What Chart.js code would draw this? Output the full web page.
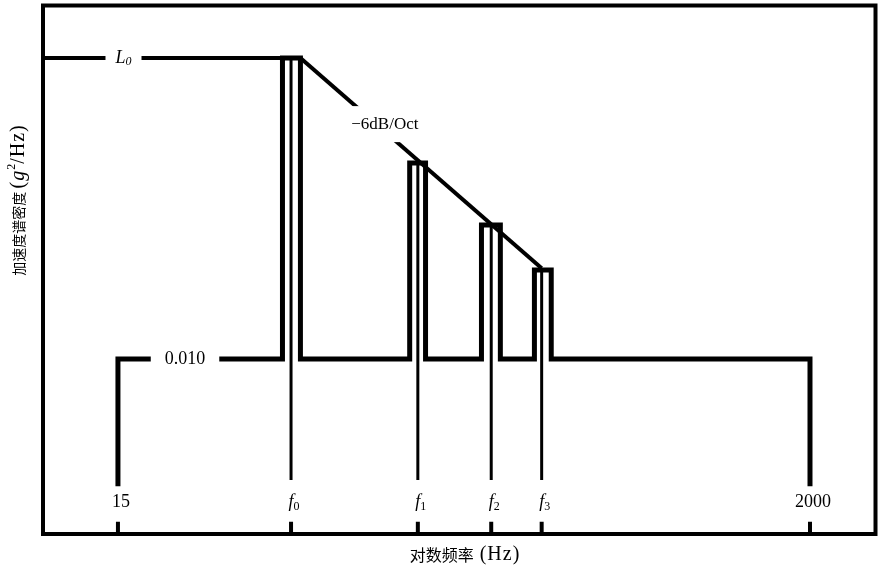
<!DOCTYPE html>
<html>
<head>
<meta charset="utf-8">
<script src="https://cdn.jsdelivr.net/npm/chart.js@4.4.1/dist/chart.umd.min.js"></script>
<style>
  html, body { margin: 0; padding: 0; background: #fff; }
  #wrap { width: 882px; height: 566px; position: relative; }
</style>
</head>
<body>
<div id="wrap"><canvas id="psd"></canvas></div>
<script>
// marks on the log frequency axis (Hz)
const tickLabels = ['15', 'f0', 'f1', 'f2', 'f3', '2000'];
const tickFreqs = [15, 51, 125, 210, 300, 2000];

// narrow bands round f0..f3 (Hz) and their levels (g^2/Hz)
const bandLow = [48, 118, 196, 285];
const bandHigh = [54.5, 132, 224, 321];
const bandLevel = [1.57, 0.269, 0.095, 0.0446];

const baseLevel = 0.010;   // broadband level
const L0 = 1.57;

// the -6dB/Oct line, from f0 to f3
const slopeFreq = [54.5, 300];
const slopeLevel = [1.57, 0.046];

// axis limits and where the short lines stop
const xRange = [8.83, 3178];
const yRange = [0.000529, 3.8];
const markerFoot = 0.00131;
const endFoot = 0.00118;
const tickTop = 0.00065;
const labelLevel = 0.0009;

const SERIF = '"Liberation Serif", "Times New Roman", serif';
const CJK = '"Noto Sans CJK SC", sans-serif';

function line(data, width) {
    return {
        data: data,
        showLine: true,
        borderColor: '#000',
        borderWidth: width,
        pointRadius: 0,
        borderJoinStyle: 'miter',
        borderCapStyle: 'butt',
        tension: 0,
    };
}

const spectrum = [{x: tickFreqs[0], y: endFoot}, {x: tickFreqs[0], y: baseLevel}];
bandLow.forEach((lo, i) => {
    spectrum.push(
        {x: lo, y: baseLevel}, {x: lo, y: bandLevel[i]},
        {x: bandHigh[i], y: bandLevel[i]}, {x: bandHigh[i], y: baseLevel}
    );
});
spectrum.push({x: tickFreqs[5], y: baseLevel}, {x: tickFreqs[5], y: endFoot});

const datasets = [
    line(spectrum, 5),
    line([{x: xRange[0], y: L0}, {x: bandLow[0], y: L0}], 4),
    line(slopeFreq.map((f, i) => ({x: f, y: slopeLevel[i]})), 4),
    ...tickFreqs.slice(1, 5).map((f, i) => line([{x: f, y: bandLevel[i]}, {x: f, y: markerFoot}], 3)),
    ...tickFreqs.map(f => line([{x: f, y: yRange[0]}, {x: f, y: tickTop}], 4)),
];

// text made of pieces with their own font and vertical shift
function drawParts(ctx, parts, cx, cy, box) {
    let w = 0;
    parts.forEach(p => {
        ctx.font = p.font;
        ctx.letterSpacing = p.ls || '0px';
        p.w = ctx.measureText(p.text).width;
        w += p.w;
    });
    if (box) {
        ctx.fillStyle = '#fff';
        ctx.fillRect(cx - w / 2 - box[0], cy - 8 - box[1], w + 2 * box[0], 16 + 2 * box[1]);
    }
    ctx.fillStyle = '#000';
    ctx.textAlign = 'left';
    ctx.textBaseline = 'middle';
    let px = cx - w / 2;
    parts.forEach(p => {
        ctx.font = p.font;
        ctx.letterSpacing = p.ls || '0px';
        ctx.fillText(p.text, px, cy + (p.dy || 0));
        px += p.w;
    });
    ctx.letterSpacing = '0px';
}

function subLabel(main, sub, italicSub) {
    return [
        {text: main, font: 'italic 18px ' + SERIF},
        {text: sub, font: (italicSub ? 'italic ' : '') + '12px ' + SERIF, dy: 4},
    ];
}

const notesPlugin = {
    id: 'notes',
    afterDatasetsDraw(chart) {
        const {ctx, chartArea: a, scales: {x, y}} = chart;
        ctx.save();

        // frame
        ctx.lineWidth = 4;
        ctx.strokeStyle = '#000';
        ctx.strokeRect(a.left, a.top, a.right - a.left, a.bottom - a.top);

        drawParts(ctx, subLabel('L', '0', true), x.getPixelForValue(15.6), y.getPixelForValue(L0), [10, 6]);
        drawParts(ctx, [{text: '0.010', font: '18px ' + SERIF}], x.getPixelForValue(24.1), y.getPixelForValue(baseLevel), [14, 6]);
        drawParts(ctx, [{text: '\u22126dB/Oct', font: '17px ' + SERIF}], x.getPixelForValue(99), y.getPixelForValue(0.518), [4, 10]);

        const ly = y.getPixelForValue(labelLevel);
        tickLabels.forEach((t, i) => {
            const lx = x.getPixelForValue(tickFreqs[i]) + 3;
            const parts = t[0] === 'f' ? subLabel('f', t.slice(1), false) : [{text: t, font: '18px ' + SERIF}];
            drawParts(ctx, parts, lx, ly);
        });

        // axis titles
        drawParts(ctx, [
            {text: '对数频率', font: '16px ' + CJK},
            {text: ' (Hz)', font: '20px ' + SERIF, ls: '1px'},
        ], 465, 555);

        ctx.translate(19, 200);
        ctx.rotate(-Math.PI / 2);
        drawParts(ctx, [
            {text: '加速度谱密度 ', font: '14px ' + CJK},
            {text: '(', font: '20px ' + SERIF, ls: '1px'},
            {text: 'g', font: 'italic 20px ' + SERIF, ls: '1px'},
            {text: '2', font: '12px ' + SERIF, dy: -7},
            {text: '/Hz)', font: '20px ' + SERIF, ls: '1px'},
        ], 0, 0);
        ctx.restore();
    }
};

new Chart(document.getElementById('psd').getContext('2d'), {
    type: 'scatter',
    data: {datasets: datasets},
    options: {
        responsive: true,
        maintainAspectRatio: false,
        animation: false,
        layout: {padding: {left: 43, top: 5.5, right: 6.5, bottom: 32}},
        plugins: {legend: {display: false}, tooltip: {enabled: false}},
        scales: {
            x: {type: 'logarithmic', min: xRange[0], max: xRange[1], display: false},
            y: {type: 'logarithmic', min: yRange[0], max: yRange[1], display: false},
        },
    },
    plugins: [notesPlugin],
});
</script>
</body>
</html>
